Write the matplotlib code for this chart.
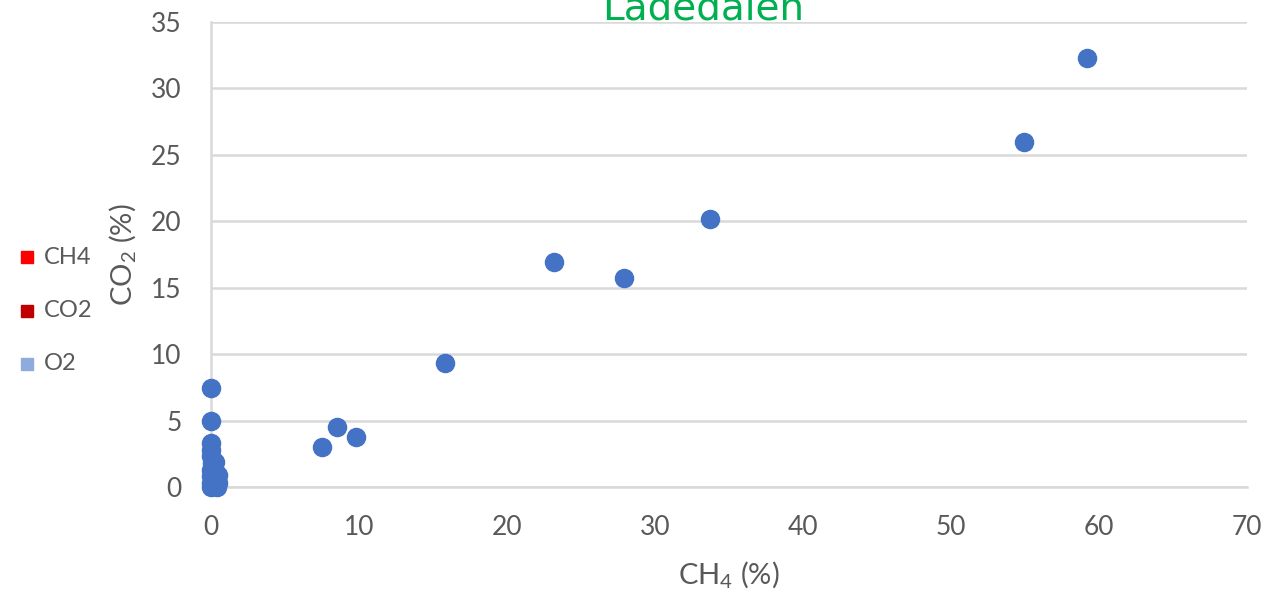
import matplotlib.pyplot as plt
from matplotlib.lines import Line2D

# data
ch4 = [59.2, 54.9, 33.7, 23.2, 27.9, 15.8, 8.5, 9.8, 7.5, 0.0, 0.0,
       0.0, 0.0, 0.0, 0.1, 0.0, 0.0, 0.0, 0.0, 0.3, 0.3, 0.4, 0.5, 0.5, 0.4, 0.2]
co2 = [32.3, 26.0, 20.2, 16.9, 15.7, 9.3, 4.5, 3.8, 3.0, 7.45, 4.95,
       3.3, 2.8, 2.3, 1.8, 1.3, 0.8, 0.3, 0.0, 1.9, 1.2, 0.6, 0.9, 0.3, 0.0, 0.1]
legend_labels = ["CH4", "CO2", "O2"]
legend_colors = ["#ff0000", "#c00000", "#8faadc"]

gray = "#595959"
plt.rcParams['font.family'] = ['Lato', 'DejaVu Sans']

fig = plt.figure(figsize=(12.63, 5.96), dpi=100)
ax = fig.add_axes([211/1263, 1 - 487/596, (1247-211)/1263, (487-22)/596])

ax.scatter(ch4, co2, s=170, color="#4472c4", zorder=3, clip_on=False)

ax.set_xlim(0, 70)
ax.set_ylim(0, 35)
ax.set_xticks(range(0, 71, 10))
ax.set_yticks(range(0, 36, 5))
ax.grid(axis="y", color="#d9d9d9", lw=1.8)
ax.set_axisbelow(True)
for s in ["top", "right"]:
    ax.spines[s].set_visible(False)
for s in ["left", "bottom"]:
    ax.spines[s].set_color("#d9d9d9")
    ax.spines[s].set_linewidth(1.8)
ax.tick_params(length=0, labelsize=19, labelcolor=gray)
ax.tick_params(axis="y", pad=21)
ax.tick_params(axis="x", pad=20)

ax.set_xlabel(r"CH$_\mathregular{4}$ (%)", fontsize=21, color=gray, labelpad=14)
ax.set_ylabel(r"CO$_\mathregular{2}$ (%)", fontsize=21, color=gray, labelpad=9)

fig.text(703/1263, 1 - 20/596, "Ladedalen", color="#00b050", fontsize=28,
         ha="center", va="baseline", family="DejaVu Sans")

#fake legend on the left
for i, (lab, c) in enumerate(zip(legend_labels, legend_colors)):
    yy = 1 - (257 + i*53.5)/596
    fig.add_artist(Line2D([27/1263], [yy], marker="s", markersize=9, color=c,
                          transform=fig.transFigure, linestyle="none"))
    fig.text(44/1263, yy, lab, color=gray, fontsize=17, va="center", ha="left")

fig.savefig("out.png", dpi=100)
